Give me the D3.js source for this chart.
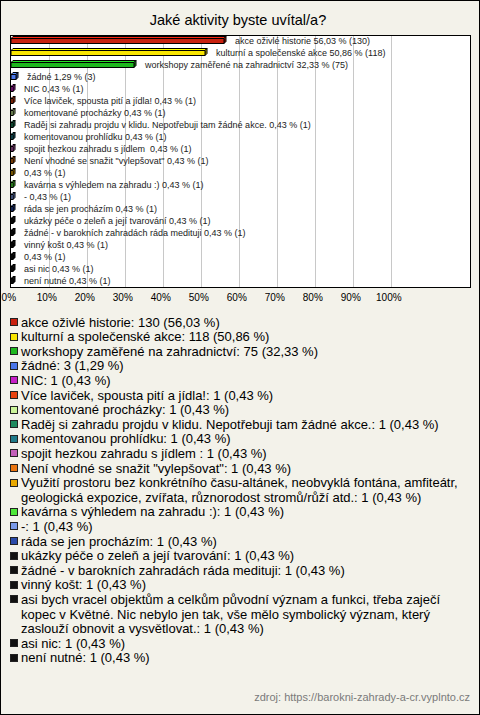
<!DOCTYPE html>
<html><head><meta charset="utf-8">
<script src="https://cdn.jsdelivr.net/npm/d3@7"></script>
<style>
html,body{margin:0;padding:0;background:#fff;}
svg{display:block;}
</style></head>
<body>
<svg id="chart" width="480" height="715"></svg>
<script>
const title = "Jaké aktivity byste uvítal/a?";
const categories = [
  "akce oživlé historie",
  "kulturní a společenské akce",
  "workshopy zaměřené na zahradnictví",
  "žádné",
  "NIC",
  "Více laviček, spousta pití a jídla!",
  "komentované procházky",
  "Raděj si zahradu projdu v klidu. Nepotřebuji tam žádné akce.",
  "komentovanou prohlídku",
  "spojit hezkou zahradu s jídlem ",
  "Není vhodné se snažit \"vylepšovat\"",
  "Využití prostoru bez konkrétního času-altánek, neobvyklá fontána, amfiteátr, geologická expozice, zvířata, různorodost stromů/růží atd.",
  "kavárna s výhledem na zahradu :)",
  "-",
  "ráda se jen procházím",
  "ukázky péče o zeleň a její tvarování",
  "žádné - v barokních zahradách ráda medituji",
  "vinný košt",
  "asi bych vracel objektům a celkům původní význam a funkci, třeba zaječí kopec v Květné. Nic nebylo jen tak, vše mělo symbolický význam, který zaslouží obnovit a vysvětlovat.",
  "asi nic",
  "není nutné"
];
const counts = [130,118,75,3,1,1,1,1,1,1,1,1,1,1,1,1,1,1,1,1,1];
const percents = [56.03,50.86,32.33,1.29,0.43,0.43,0.43,0.43,0.43,0.43,0.43,0.43,0.43,0.43,0.43,0.43,0.43,0.43,0.43,0.43,0.43];
const colors = ["#c8210f","#f7e400","#1fb81f","#4a76e8","#c61fc6","#e8420f","#ccf59a","#1f8a5e","#1f7a88","#c25fb8","#e8740f","#e8a800","#4fe83a","#7a9ae8","#2a4aa8","#111","#111","#111","#111","#111","#111"];
const nameHiddenInChart = [false,false,false,false,false,false,false,false,false,false,false,true,false,false,false,false,false,false,true,false,false];
const xTicks = [0,10,20,30,40,50,60,70,80,90,100];
const source = "zdroj: https://barokni-zahrady-a-cr.vyplnto.cz";

const FONT = "Liberation Sans, Arial, sans-serif";
const fmt = v => d3.format(".2f")(v).replace(".", ",");
const svg = d3.select("#chart");
const W = 480, H = 715;

svg.append("rect").attr("x",0.5).attr("y",0.5).attr("width",W-1).attr("height",H-1)
  .attr("fill","#f3f2ea").attr("stroke","#000");

svg.append("text").attr("x",238).attr("y",25).attr("text-anchor","middle")
  .attr("font-family",FONT).attr("font-size",14.5).attr("fill","#000")
  .text(title);

const plot = {left:10.5, top:35.5, right:470.5, bottom:287.5};
svg.append("rect").attr("x",plot.left).attr("y",plot.top)
  .attr("width",plot.right-plot.left).attr("height",plot.bottom-plot.top)
  .attr("fill","#fff");

const x = d3.scaleLinear().domain([0,100]).range([11.3,391.3]);
const y = d3.scaleBand().domain(d3.range(categories.length)).range([35,287]).padding(0);

// grid
svg.append("g").selectAll("line").data(xTicks.filter(t=>t>0)).join("line")
  .attr("x1",d=>Math.round(x(d))+0.5).attr("x2",d=>Math.round(x(d))+0.5)
  .attr("y1",plot.top).attr("y2",plot.bottom)
  .attr("stroke","#c8c8c8").attr("stroke-width",1);

// axis labels
const xAxis = d3.axisBottom(x).tickValues(xTicks).tickFormat(d=>d+"%").tickSize(0).tickPadding(0);
const ax = svg.append("g").attr("transform",`translate(-3,${plot.bottom+6})`).call(xAxis);
ax.select(".domain").remove();
ax.selectAll("text").attr("font-family",FONT).attr("font-size",10).attr("fill","#000");

// bars (3D)
const dpt = 2;
const bars = svg.append("g");
categories.forEach((c,i)=>{
  const yc = Math.round(y(i)+y.bandwidth()/2);
  const x0 = Math.round(x(0)), x1 = Math.max(x0+1, Math.round(x(percents[i])));
  const top = yc-2.5, bot = yc+2.5;
  const col = d3.color(colors[i]);
  const g = bars.append("g").attr("stroke","#000").attr("stroke-width",1).attr("stroke-linejoin","round");
  g.append("polygon").attr("points",[[x0,top],[x0+dpt,top-dpt],[x1+dpt,top-dpt],[x1,top]].join(" "))
    .attr("fill",col.brighter(0.6));
  g.append("polygon").attr("points",[[x1,top],[x1+dpt,top-dpt],[x1+dpt,bot-dpt],[x1,bot]].join(" "))
    .attr("fill",col.darker(0.7));
  g.append("rect").attr("x",x0).attr("y",top).attr("width",x1-x0).attr("height",bot-top)
    .attr("fill",colors[i]);
  const lbl = (nameHiddenInChart[i] ? "" : c + " ") + fmt(percents[i]) + " % (" + counts[i] + ")";
  bars.append("text").attr("x",x1+dpt+9).attr("y",yc).attr("dy","0.35em")
    .attr("font-family",FONT).attr("font-size",9)
    .attr("fill","#222").attr("xml:space","preserve").style("white-space","pre").text(lbl);
});

svg.append("rect").attr("x",plot.left).attr("y",plot.top)
  .attr("width",plot.right-plot.left).attr("height",plot.bottom-plot.top)
  .attr("fill","none").attr("stroke","#000").attr("stroke-width",1);

// legend
const leg = svg.append("g");
const lineH = 14.6, legTop = 322, textX = 21, maxTextW = 445;
let line = 0;
categories.forEach((c,i)=>{
  const full = c + ": " + counts[i] + " (" + fmt(percents[i]) + " %)";
  const yc = legTop + line*lineH;
  leg.append("rect").attr("x",10.5).attr("y",Math.round(yc)-3.5).attr("width",7).attr("height",7)
    .attr("fill",colors[i]).attr("stroke","#222");
  const t = leg.append("text").attr("font-family",FONT)
    .attr("font-size",13).attr("fill","#000").attr("xml:space","preserve");
  const words = full.split(" ");
  let cur = "", lines = [];
  const probe = leg.append("text").attr("font-family",FONT).attr("font-size",13);
  words.forEach(w=>{
    const test = cur ? cur + " " + w : w;
    probe.text(test);
    if (probe.node().getComputedTextLength() > maxTextW && cur) { lines.push(cur); cur = w; }
    else cur = test;
  });
  lines.push(cur);
  probe.remove();
  lines.forEach((ln,k)=>{
    t.append("tspan").attr("x",textX).attr("y",yc + k*lineH).attr("dy","0.35em").text(ln);
  });
  line += lines.length;
});

svg.append("text").attr("x",470).attr("y",697).attr("dy","0.35em").attr("text-anchor","end")
  .attr("font-family",FONT).attr("font-size",11).attr("fill","#7a7a7a")
  .text(source);
</script>
</body></html>
